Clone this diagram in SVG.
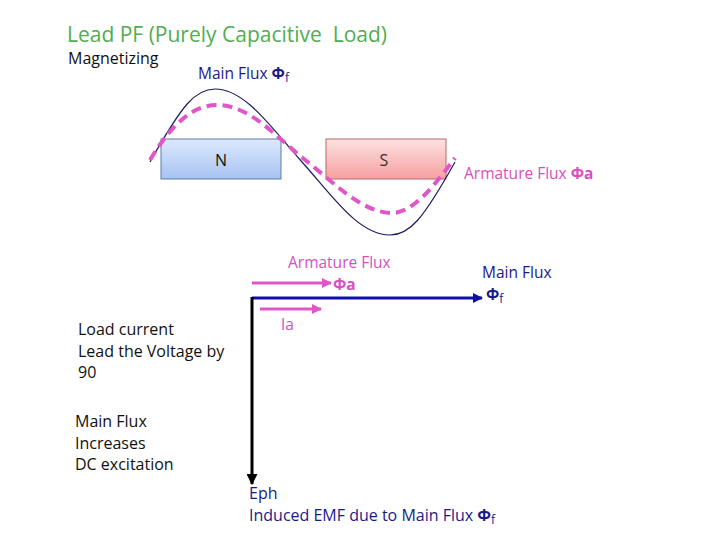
<svg xmlns="http://www.w3.org/2000/svg" width="720" height="540" viewBox="0 0 720 540">
<style>
text{font-family:"Open Sans","Liberation Sans",sans-serif;}
.t{font-size:16px;fill:#111;}
.navy{fill:#1a1a8c;font-size:16px;}
.pink{fill:#d94fc0;font-size:15.5px;}
.s{font-size:15.5px;}
.sub{font-size:12px;}
.b{font-weight:bold;}
</style>
<defs>
<linearGradient id="gN" x1="0" y1="0" x2="0" y2="1"><stop offset="0" stop-color="#dde9fd"/><stop offset="1" stop-color="#a7c3f3"/></linearGradient>
<linearGradient id="gS" x1="0" y1="0" x2="0" y2="1"><stop offset="0" stop-color="#fde1e1"/><stop offset="1" stop-color="#f7a0a0"/></linearGradient>
<marker id="hPink" viewBox="0 0 10 10" refX="9" refY="5" markerWidth="10" markerHeight="10" markerUnits="userSpaceOnUse" orient="auto"><path d="M0,0L10,5L0,10z" fill="#e055c8"/></marker>
<marker id="hBlue" viewBox="0 0 10 10" refX="9" refY="5" markerWidth="10" markerHeight="10" markerUnits="userSpaceOnUse" orient="auto"><path d="M0,0L10,5L0,10z" fill="#1010a8"/></marker>
<marker id="hBlack" viewBox="0 0 10 10" refX="9" refY="5" markerWidth="11" markerHeight="11" markerUnits="userSpaceOnUse" orient="auto"><path d="M0,0L10,5L0,10z" fill="#000"/></marker>
</defs>

<text x="67" y="42" style="font-size:21px;fill:#4fae4f">Lead PF (Purely Capacitive &#160;Load)</text>
<text x="68" y="64" class="t">Magnetizing</text>

<g id="poleN"><rect x="161" y="139" width="120" height="40" fill="url(#gN)" stroke="#5b7fa3" stroke-width="1"/><text x="221" y="166" class="t" text-anchor="middle">N</text></g>
<g id="poleS"><rect x="326" y="139" width="120" height="40" fill="url(#gS)" stroke="#b36b6b" stroke-width="1"/><text x="384" y="166" class="t" text-anchor="middle" style="fill:#333">S</text></g>

<g id="waves" fill="none">
<path d="M150,162 C182.5,104 195.5,89 215,89 C246,89 273,130 302,162 C331,194 358,235 390,235 C409.5,235 422.5,220 455,162" stroke="#1a1a5e" stroke-width="1.2"/>
<path d="M150,160 C175,118 197,105 217,105 C250,105 276,137 304,159 C332,181 362,213 392,213 C414,213 437,182 455,158" stroke="#e055c8" stroke-width="4" stroke-dasharray="10 6"/>
</g>

<g id="labelMainFlux"><text x="198" y="79" class="navy s">Main Flux <tspan class="b">Φ</tspan><tspan dy="3" class="sub">f</tspan></text></g>
<g id="labelArmFlux"><text x="464" y="179" class="pink">Armature Flux <tspan class="b">Φa</tspan></text></g>

<g id="connectors" fill="none">
<line x1="252" y1="283" x2="331" y2="283" stroke="#e055c8" stroke-width="3" marker-end="url(#hPink)"/>
<line x1="252" y1="298" x2="482" y2="298" stroke="#1010a8" stroke-width="3" marker-end="url(#hBlue)"/>
<line x1="260" y1="309" x2="321" y2="309" stroke="#e055c8" stroke-width="3" marker-end="url(#hPink)"/>
<line x1="252" y1="297" x2="252" y2="484" stroke="#000" stroke-width="3" marker-end="url(#hBlack)"/>
</g>

<g id="phasorLabels">
<text x="288" y="268" class="pink">Armature Flux</text>
<text x="333" y="290" class="pink b">Φa</text>
<text x="482" y="278" class="navy s">Main Flux</text>
<text x="486" y="300" class="navy s"><tspan class="b">Φ</tspan><tspan dy="3" class="sub">f</tspan></text>
<text x="281" y="330" class="pink">Ia</text>
</g>

<g id="leftText">
<text x="78" y="335" class="t">Load current</text>
<text x="78" y="357" class="t">Lead the Voltage by</text>
<text x="78" y="378" class="t">90</text>
<text x="75" y="427" class="t">Main Flux</text>
<text x="75" y="449" class="t">Increases</text>
<text x="75" y="470" class="t">DC excitation</text>
</g>

<g id="emf">
<text x="249" y="499" class="navy">Eph</text>
<text x="249" y="521" class="navy">Induced EMF due to Main Flux <tspan class="b">Φ</tspan><tspan dy="3" class="sub">f</tspan></text>
</g>
</svg>
